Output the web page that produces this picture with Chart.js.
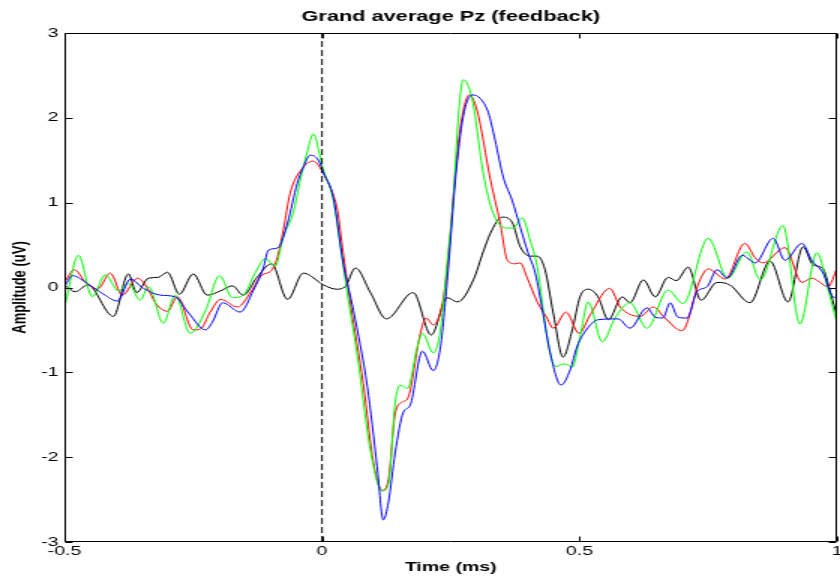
<!DOCTYPE html>
<html>
<head>
<meta charset="utf-8">
<script src="https://cdn.jsdelivr.net/npm/chart.js@4.4.1/dist/chart.umd.min.js"></script>
<style>
  html, body { margin: 0; padding: 0; background: #fff; }
  canvas { display: block; }
</style>
</head>
<body>
<!-- drawn on a 560 px wide canvas, shown 840 px wide -->
<canvas id="c" width="560" height="579" style="width:840px;height:579px;"></canvas>
<script>
// Axis ticks
const xTicks = [-0.5, 0, 0.5, 1];
const yTicks = [-3, -2, -1, 0, 1, 2, 3];

// Stimulus onset marker
const onsetT = [0, 0];
const onsetV = [-3, 3];

// Grand-average waveforms at Pz (time in s, amplitude in uV)
const blackT = [-0.498,-0.479,-0.455,-0.405,-0.376,-0.360,-0.337,-0.318,-0.300,-0.277,-0.250,-0.223,-0.197,-0.174,-0.153,-0.126,-0.098,-0.067,-0.036,0.003,0.028,0.045,0.065,0.094,0.125,0.177,0.212,0.243,0.263,0.294,0.313,0.327,0.350,0.369,0.385,0.404,0.418,0.433,0.449,0.468,0.486,0.501,0.517,0.536,0.556,0.583,0.598,0.624,0.647,0.672,0.688,0.711,0.736,0.767,0.792,0.831,0.870,0.905,0.934,0.953,0.973,0.986,1.000];
const blackV = [0.02,-0.05,0.03,-0.34,0.16,-0.06,0.11,0.12,0.18,-0.08,0.16,-0.09,-0.04,0.02,-0.09,0.12,0.28,-0.14,0.17,0.03,-0.02,0.01,0.23,-0.06,-0.37,-0.06,-0.56,-0.12,-0.17,0.09,0.42,0.64,0.83,0.77,0.48,0.37,0.37,0.21,-0.30,-0.82,-0.50,-0.11,-0.02,-0.11,-0.38,-0.11,-0.18,0.09,-0.11,0.12,0.08,0.24,-0.15,0.06,0.03,-0.18,0.31,-0.17,0.48,0.27,0.22,-0.03,-0.34];

const redT = [-0.498,-0.481,-0.459,-0.436,-0.411,-0.388,-0.358,-0.343,-0.320,-0.300,-0.281,-0.250,-0.236,-0.217,-0.197,-0.164,-0.139,-0.116,-0.100,-0.087,-0.075,-0.062,-0.036,-0.017,0.003,0.022,0.030,0.041,0.055,0.080,0.100,0.117,0.129,0.142,0.156,0.167,0.191,0.202,0.216,0.235,0.249,0.255,0.268,0.286,0.301,0.327,0.346,0.360,0.375,0.385,0.398,0.418,0.437,0.449,0.474,0.499,0.521,0.559,0.579,0.618,0.643,0.666,0.699,0.734,0.750,0.783,0.821,0.841,0.856,0.899,0.932,0.951,0.983,1.000];
const redV = [0.08,0.21,0.06,-0.02,0.17,-0.09,0.11,0.03,-0.21,-0.28,-0.11,-0.50,-0.49,-0.29,-0.14,-0.23,-0.06,0.15,0.19,0.35,0.68,1.11,1.42,1.49,1.34,1.09,0.91,0.41,-0.18,-1.13,-2.07,-2.39,-2.26,-1.49,-1.35,-1.30,-0.54,-0.36,-0.44,-0.15,0.60,1.07,1.86,2.27,2.09,1.27,0.76,0.32,0.28,0.29,0.12,-0.17,-0.36,-0.48,-0.29,-0.54,-0.32,-0.01,-0.23,-0.34,-0.23,-0.36,-0.51,0.09,0.22,0.10,0.52,0.35,0.29,0.47,0.06,0.11,0.01,0.23];

const greenT = [-0.498,-0.473,-0.446,-0.421,-0.395,-0.376,-0.353,-0.337,-0.308,-0.285,-0.256,-0.226,-0.199,-0.174,-0.153,-0.129,-0.110,-0.091,-0.075,-0.056,-0.042,-0.029,-0.017,0.001,0.022,0.036,0.049,0.069,0.094,0.117,0.129,0.142,0.152,0.166,0.185,0.195,0.216,0.230,0.243,0.255,0.264,0.274,0.292,0.313,0.332,0.360,0.371,0.389,0.404,0.418,0.437,0.453,0.472,0.486,0.501,0.517,0.544,0.569,0.598,0.631,0.672,0.701,0.750,0.788,0.825,0.851,0.895,0.928,0.961,0.983,1.000];
const greenV = [-0.18,0.38,-0.11,0.15,-0.04,0.05,-0.15,0.01,-0.42,-0.09,-0.54,-0.27,0.14,-0.12,-0.09,0.18,0.34,0.25,0.60,0.88,1.27,1.59,1.81,1.42,1.03,0.48,-0.06,-0.82,-1.92,-2.40,-2.32,-1.36,-1.15,-1.19,-0.70,-0.54,-0.77,-0.50,0.30,1.05,1.95,2.45,2.21,1.35,0.88,0.70,0.70,0.82,0.56,0.24,-0.58,-0.93,-0.90,-0.94,-0.58,-0.17,-0.64,-0.36,-0.18,-0.48,-0.03,-0.19,0.58,0.11,0.42,0.09,0.73,-0.43,0.41,-0.03,-0.42];

const blueT = [-0.498,-0.485,-0.454,-0.424,-0.397,-0.372,-0.347,-0.314,-0.285,-0.259,-0.226,-0.213,-0.193,-0.159,-0.133,-0.114,-0.104,-0.085,-0.067,-0.048,-0.036,-0.023,-0.007,0.003,0.022,0.041,0.061,0.088,0.107,0.119,0.129,0.142,0.158,0.171,0.195,0.216,0.230,0.245,0.259,0.274,0.292,0.307,0.323,0.336,0.352,0.369,0.385,0.400,0.414,0.429,0.443,0.464,0.482,0.495,0.517,0.536,0.575,0.598,0.631,0.647,0.662,0.676,0.691,0.709,0.728,0.748,0.767,0.787,0.816,0.841,0.876,0.899,0.932,0.951,0.973,0.992,1.000];
const blueV = [0.03,0.14,0.04,-0.08,-0.16,0.10,-0.01,-0.09,-0.11,-0.30,-0.50,-0.41,-0.18,-0.29,-0.03,0.23,0.44,0.47,0.76,1.23,1.42,1.56,1.50,1.35,1.06,0.29,-0.27,-1.17,-2.11,-2.74,-2.53,-1.95,-1.47,-1.39,-0.75,-0.98,-0.70,0.21,1.27,2.01,2.27,2.23,2.06,1.74,1.30,1.03,0.71,0.41,0.17,-0.30,-0.77,-1.15,-0.97,-0.70,-0.47,-0.38,-0.37,-0.48,-0.24,-0.35,-0.36,-0.18,-0.35,-0.36,-0.05,0.01,0.21,0.11,0.38,0.29,0.58,0.32,0.52,0.32,0.17,-0.11,-0.12];

const FONT = "'Liberation Sans', Arial, Helvetica, sans-serif";
const TICK_LEN = 5;

function points(t, v) {
  return t.map((x, i) => ({ x: x, y: v[i] }));
}

function trace(label, t, v, color) {
  return {
    label: label,
    data: points(t, v),
    borderColor: color,
    borderWidth: 1,
    pointRadius: 0,
    fill: false,
    cubicInterpolationMode: 'monotone'
  };
}

// Box around the axes with inward tick marks on all four sides
const axesBox = {
  id: 'axesBox',
  afterDatasetsDraw(chart) {
    const { ctx, chartArea: a, scales } = chart;
    const xs = scales.x, ys = scales.y;
    ctx.save();
    ctx.strokeStyle = '#000';
    ctx.lineWidth = 1;
    ctx.beginPath();
    const L = Math.round(a.left) + 0.5, R = Math.round(a.right) - 0.5;
    const T = Math.round(a.top) + 0.5, B = Math.round(a.bottom) - 0.5;
    ctx.rect(L, T, R - L, B - T);
    xTicks.forEach(v => {
      const px = Math.round(xs.getPixelForValue(v)) + 0.5;
      ctx.moveTo(px, B); ctx.lineTo(px, B - TICK_LEN);
      ctx.moveTo(px, T); ctx.lineTo(px, T + TICK_LEN);
    });
    yTicks.forEach(v => {
      const py = Math.round(ys.getPixelForValue(v)) + 0.5;
      ctx.moveTo(L, py); ctx.lineTo(L + TICK_LEN, py);
      ctx.moveTo(R, py); ctx.lineTo(R - TICK_LEN, py);
    });
    ctx.stroke();
    ctx.restore();
  }
};

new Chart(document.getElementById('c'), {
  type: 'line',
  data: {
    datasets: [
      {
        label: 'onset',
        data: points(onsetT, onsetV),
        borderColor: '#000',
        borderWidth: 1,
        borderDash: [6, 3],
        pointRadius: 0,
        fill: false
      },
      trace('blue', blueT, blueV, '#0000ff'),
      trace('green', greenT, greenV, '#00ff00'),
      trace('red', redT, redV, '#ff0000'),
      trace('black', blackT, blackV, '#000000')
    ]
  },
  options: {
    responsive: false,
    animation: false,
    devicePixelRatio: 1,
    layout: { padding: { left: 0, right: 2, top: 0, bottom: 0 } },
    plugins: {
      legend: { display: false },
      tooltip: { enabled: false },
      title: { display: false }
    },
    scales: {
      // top axis only carries the plot title, centred over the axes
      top: {
        type: 'linear',
        position: 'top',
        min: -0.5,
        max: 1,
        afterFit: s => { s.height = 33; s.paddingLeft = 0; s.paddingRight = 0; },
        grid: { display: false, drawTicks: false },
        border: { display: false },
        ticks: { display: false },
        title: {
          display: true,
          text: 'Grand average Pz (feedback)',
          color: '#000',
          font: { family: FONT, size: 14.5, weight: 'bold' },
          padding: { top: 8, bottom: 0 }
        }
      },
      x: {
        type: 'linear',
        min: -0.5,
        max: 1,
        afterBuildTicks: s => { s.ticks = xTicks.map(v => ({ value: v })); },
        afterFit: s => { s.height = 37; s.paddingLeft = 0; s.paddingRight = 0; },
        grid: { display: false, drawTicks: false },
        border: { display: false },
        ticks: {
          color: '#000',
          font: { family: FONT, size: 13 },
          padding: 2,
          maxRotation: 0,
          autoSkip: false,
          callback: v => String(v)
        },
        title: {
          display: true,
          text: 'Time (ms)',
          color: '#000',
          font: { family: FONT, size: 13, weight: 'bold' },
          padding: { top: 0, bottom: 4 }
        }
      },
      y: {
        type: 'linear',
        min: -3,
        max: 3,
        afterBuildTicks: s => { s.ticks = yTicks.map(v => ({ value: v })); },
        afterFit: s => { s.width = 43; },
        grid: { display: false, drawTicks: false },
        border: { display: false },
        ticks: {
          color: '#000',
          font: { family: FONT, size: 13 },
          padding: 4,
          autoSkip: false,
          callback: v => String(v)
        },
        title: {
          display: true,
          text: 'Amplitude (uV)',
          color: '#000',
          font: { family: FONT, size: 13, weight: 'bold' },
          padding: { top: 6, bottom: 0 }
        }
      }
    }
  },
  plugins: [axesBox]
});
</script>
</body>
</html>
